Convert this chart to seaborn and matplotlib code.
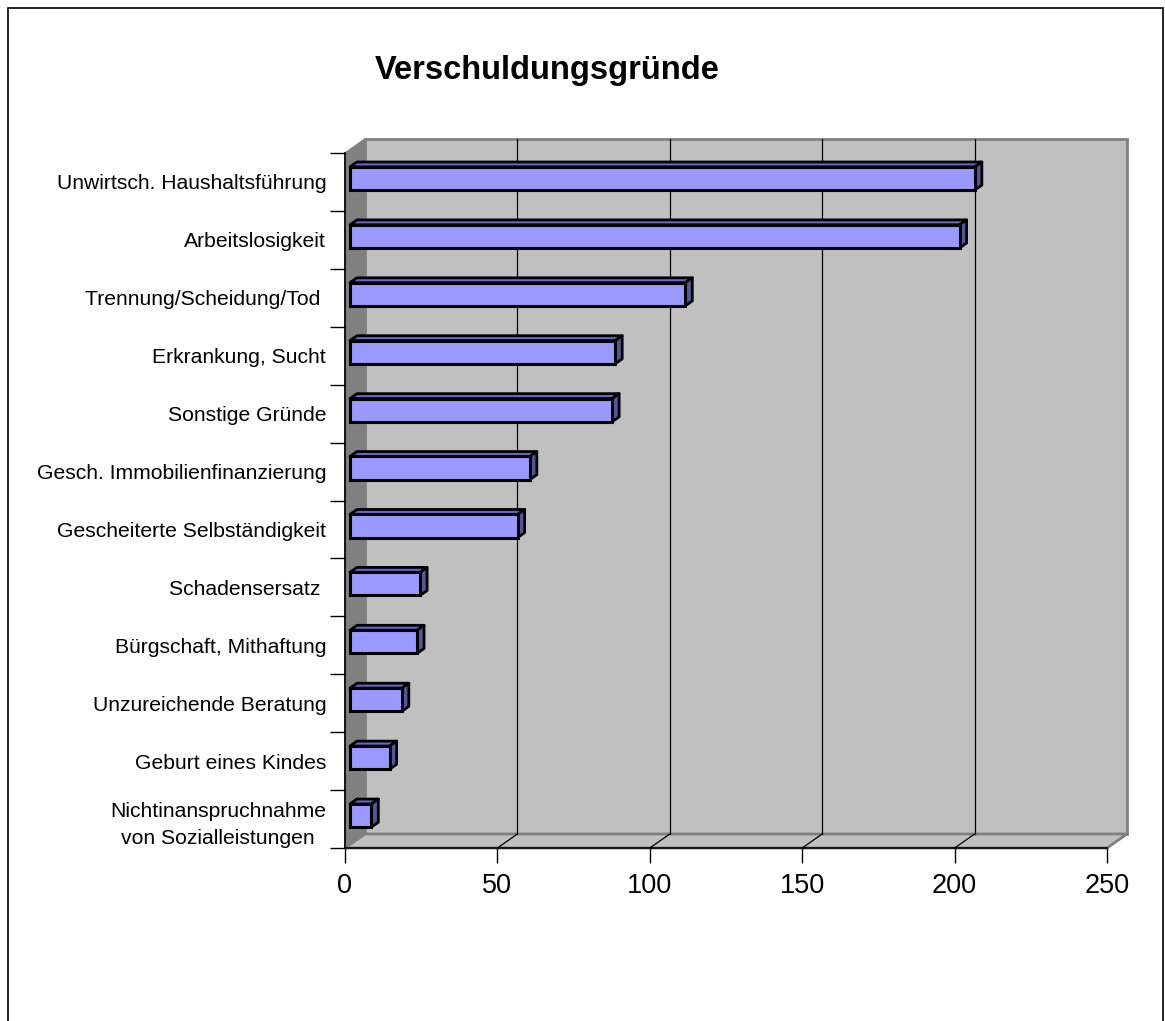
import matplotlib
matplotlib.use("Agg")
import matplotlib.pyplot as plt
import matplotlib.patches as mpatches
import numpy as np
import pandas as pd
import seaborn as sns

# data
categories = [
    "Unwirtsch. Haushaltsführung",
    "Arbeitslosigkeit",
    "Trennung/Scheidung/Tod ",
    "Erkrankung, Sucht",
    "Sonstige Gründe",
    "Gesch. Immobilienfinanzierung",
    "Gescheiterte Selbständigkeit",
    "Schadensersatz ",
    "Bürgschaft, Mithaftung",
    "Unzureichende Beratung",
    "Geburt eines Kindes",
    "Nichtinanspruchnahme\nvon Sozialleistungen",
]
values = [205, 200, 110, 87, 86, 59, 55, 23, 22, 17, 13, 7]
x_ticks = [0, 50, 100, 150, 200, 250]
title = "Verschuldungsgründe"

sns.set_style("white")
plt.rcParams['font.family'] = ['Liberation Sans', 'DejaVu Sans']
plt.rcParams['text.color'] = 'black'
plt.rcParams['xtick.color'] = 'black'
plt.rcParams['ytick.color'] = 'black'

W, H = 1165, 1021
fig = plt.figure(figsize=(W / 100, H / 100), dpi=100)
ax = fig.add_axes([345 / W, 1 - 848 / H, 762 / W, 695 / H])

df = pd.DataFrame({"reason": categories, "count": values})
sns.barplot(data=df, x="count", y="reason", orient="h", width=0.4,
            color="#9999FF", saturation=1, edgecolor="black", linewidth=2.2,
            ax=ax, zorder=5)
bars = list(ax.patches)

n = len(categories)
xmax = x_ticks[-1]
ax.set_xlim(0, xmax)
ax.set_ylim(n - 0.5, -0.5)

# depth of the 3D box in data units (20px right, 14px up)
DX = xmax * 20 / 762
DY = n * 14 / 695
F0, BD = 0.25, 0.35   # bar front position and bar depth as fraction of box depth

wall = "#C0C0C0"
dark = "#808080"
top, bot = -0.5, n - 0.5

# back wall, left wall, floor
ax.add_patch(mpatches.Rectangle((DX, top - DY), xmax, n, fc=wall, ec=dark,
                                lw=2, clip_on=False, zorder=0))
ax.add_patch(mpatches.Polygon([(0, top), (DX, top - DY), (DX, bot - DY), (0, bot)],
                              fc=dark, ec=dark, lw=1, clip_on=False, zorder=0.5))
ax.add_patch(mpatches.Polygon([(0, bot), (xmax, bot), (xmax + DX, bot - DY), (DX, bot - DY)],
                              fc=wall, ec=dark, lw=2, clip_on=False, zorder=0.5))
for t in x_ticks[1:-1]:
    ax.plot([t + DX, t + DX], [top - DY, bot - DY], color="black", lw=0.9,
            zorder=1, clip_on=False)
    ax.plot([t, t + DX], [bot, bot - DY], color="black", lw=0.9,
            zorder=1, clip_on=False)

# shift the bars into the box and add the top and side faces
for p in bars:
    p.set_x(p.get_x() + F0 * DX)
    p.set_y(p.get_y() - F0 * DY)
    x0, y0 = p.get_x(), p.get_y()
    x1, y1 = x0 + p.get_width(), y0 + p.get_height()
    dx, dy = BD * DX, BD * DY
    ax.add_patch(mpatches.Polygon([(x0, y0), (x1, y0), (x1 + dx, y0 - dy), (x0 + dx, y0 - dy)],
                                  fc="#6666CC", ec="black", lw=2, joinstyle="round",
                                  clip_on=False, zorder=4))
    ax.add_patch(mpatches.Polygon([(x1, y0), (x1, y1), (x1 + dx, y1 - dy), (x1 + dx, y0 - dy)],
                                  fc="#555599", ec="black", lw=2, joinstyle="round",
                                  clip_on=False, zorder=4))

# axes
for s in ["top", "right"]:
    ax.spines[s].set_visible(False)
for s in ["left", "bottom"]:
    ax.spines[s].set_color("black")
    ax.spines[s].set_linewidth(1.2)
    ax.spines[s].set_zorder(3)

ax.set_xticks(x_ticks)
ax.set_yticks(np.arange(-0.5, n, 1))
ax.set_yticklabels([])
ax.set_yticks(np.arange(n), labels=categories, minor=True)
for lab in ax.get_yticklabels(minor=True):
    lab.set_multialignment("center")
    lab.set_linespacing(1.5)
ax.tick_params(axis="x", which="major", bottom=True, length=10.8, width=1,
               color="black", pad=7, labelsize=19.5)
ax.tick_params(axis="y", which="major", left=True, length=10.8, width=1, color="black")
ax.tick_params(axis="y", which="minor", left=True, length=0, pad=13.5, labelsize=15.2)
ax.set_xlabel("")
ax.set_ylabel("")

fig.text(547 / W, 1 - 70 / H, title, ha="center", va="center",
         fontsize=23.5, fontweight="bold")

# outer chart frame
fig.add_artist(mpatches.Rectangle((8 / W, -0.05), (1163 - 8) / W, 1 - 8 / H + 0.05,
                                  transform=fig.transFigure, fill=False,
                                  ec="black", lw=1.2))

fig.savefig("out.png", dpi=100)
